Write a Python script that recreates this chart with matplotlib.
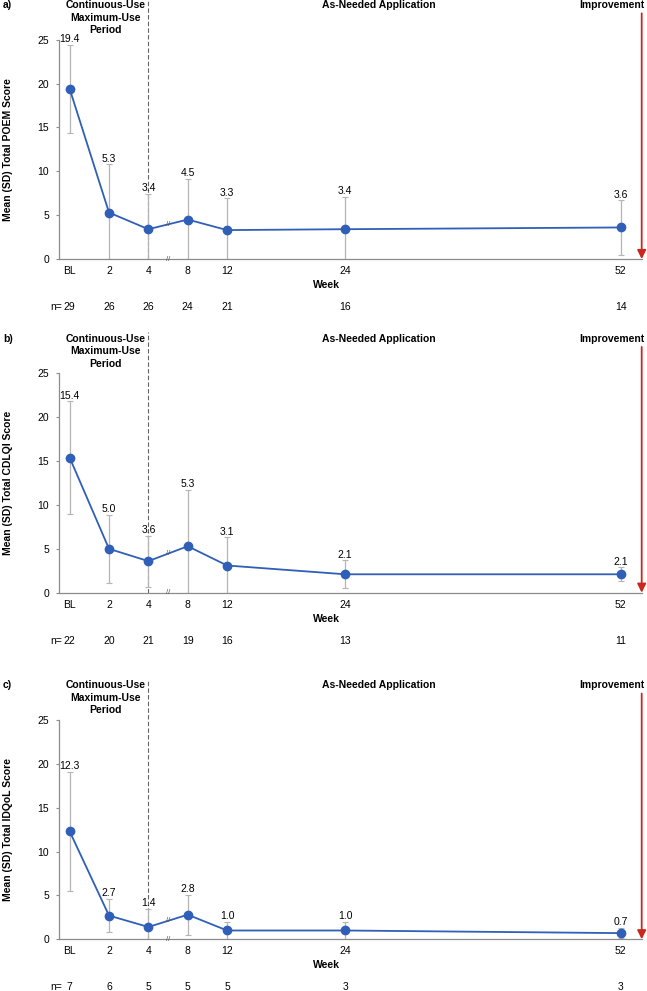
import matplotlib
matplotlib.use("Agg")
import matplotlib.pyplot as plt

plt.rcParams['font.family'] = ['Liberation Sans', 'DejaVu Sans']
plt.rcParams['font.size'] = 7.5

# data
weeks = ['BL', 2, 4, 8, 12, 24, 52]
week_labels = ['BL', '2', '4', '8', '12', '24', '52']

poem_mean = [19.4, 5.3, 3.4, 4.5, 3.3, 3.4, 3.6]
poem_sd = [5.0, 5.5, 4.0, 4.6, 3.6, 3.7, 3.1]
poem_n = [29, 26, 26, 24, 21, 16, 14]

cdlqi_mean = [15.4, 5.0, 3.6, 5.3, 3.1, 2.1, 2.1]
cdlqi_sd = [6.4, 3.9, 2.9, 6.4, 3.2, 1.6, 0.8]
cdlqi_n = [22, 20, 21, 19, 16, 13, 11]

idqol_mean = [12.3, 2.7, 1.4, 2.8, 1.0, 1.0, 0.7]
idqol_sd = [6.8, 1.9, 2.1, 2.3, 1.0, 1.0, 0.6]
idqol_n = [7, 6, 5, 5, 5, 3, 3]

panels = [
    ('a)', 'Mean (SD) Total POEM Score', poem_mean, poem_sd, poem_n),
    ('b)', 'Mean (SD) Total CDLQI Score', cdlqi_mean, cdlqi_sd, cdlqi_n),
    ('c)', 'Mean (SD) Total IDQoL Score', idqol_mean, idqol_sd, idqol_n),
]

blue = '#2F5FB7'
grey = '#8C8C8C'
red = '#C8281E'

# BL, 2, 4 evenly spaced; from week 4 on the axis is linear (break between 4 and 8)
def week_pos(w):
    if w == 'BL':
        return 0
    if w <= 4:
        return w / 2
    return 2 + (w - 4) / 4

xs = [week_pos(w) for w in weeks]
x_lo, x_hi = -0.27, 14.53
bottoms = [0.7386, 0.4019, 0.0522]

fig = plt.figure(figsize=(6.47, 9.91), dpi=100)

for (tag, ylab, mean, sd, n), bot in zip(panels, bottoms):
    ax = fig.add_axes([0.0912, bot, 0.9006, 0.2214])
    lower = [min(s, m) for s, m in zip(sd, mean)]
    ax.errorbar(xs, mean, yerr=[lower, sd], fmt='none', ecolor='#B5B5B5',
                elinewidth=0.9, capsize=2, capthick=0.8, zorder=2)
    ax.plot(xs, mean, '-o', color=blue, lw=1.3, ms=6, zorder=3)
    for x, m, s in zip(xs, mean, sd):
        ax.annotate(f'{m:.1f}', (x, m + s), xytext=(0, 0.5), textcoords='offset points',
                    ha='center', va='bottom', fontsize=7.5)

    ax.set_xlim(x_lo, x_hi)
    ax.set_ylim(0, 25)
    ax.set_yticks([0, 5, 10, 15, 20, 25])
    ax.set_xticks(xs)
    ax.set_xticklabels(week_labels)
    ax.tick_params(axis='x', length=0, pad=5)
    ax.tick_params(axis='y', length=2.5, pad=4.5, color=grey)
    for side in ['top', 'right']:
        ax.spines[side].set_visible(False)
    for side in ['left', 'bottom']:
        ax.spines[side].set_color(grey)
        ax.spines[side].set_linewidth(0.9)

    # period divider
    ax.plot([xs[2], xs[2]], [0, 29.7], ls=(0, (4, 2)), color='#666666', lw=0.8,
            clip_on=False, zorder=1)
    # axis break marks
    xb = (xs[2] + xs[3]) / 2
    ax.text(xb, (mean[2] + mean[3]) / 2, '//', fontsize=5.5, color='#555555',
            ha='center', va='center', zorder=4)
    ax.text(xb, 0, '//', fontsize=5.5, color='#555555', ha='center', va='center',
            clip_on=False, zorder=4)

    ax.text(0.91, 29.5, 'Continuous-Use\nMaximum-Use\nPeriod', ha='center', va='top',
            fontweight='bold', linespacing=1.3)
    ax.text(7.86, 29.5, 'As-Needed Application', ha='center', va='top', fontweight='bold')
    ax.text(14.6, 29.5, 'Improvement', ha='right', va='top', fontweight='bold')
    ax.text(-0.096, 29.5, tag, transform=ax.get_yaxis_transform(), ha='left', va='top',
            fontweight='bold')
    ax.annotate('', xy=(x_hi, 0), xytext=(x_hi, 28.0),
                arrowprops=dict(arrowstyle='-|>', color=red, lw=1.3, mutation_scale=13,
                                shrinkA=0, shrinkB=0),
                annotation_clip=False)

    ax.text(-0.088, 0.5, ylab, transform=ax.transAxes, rotation=90, ha='center',
            va='center', fontweight='bold')
    ax.text(6.53, -2.95, 'Week', ha='center', va='center', fontweight='bold')
    ax.text(-0.2, -5.45, 'n=', ha='right', va='center')
    for x, k in zip(xs, n):
        ax.text(x, -5.45, str(k), ha='center', va='center')

fig.savefig('out.png', dpi=100)
